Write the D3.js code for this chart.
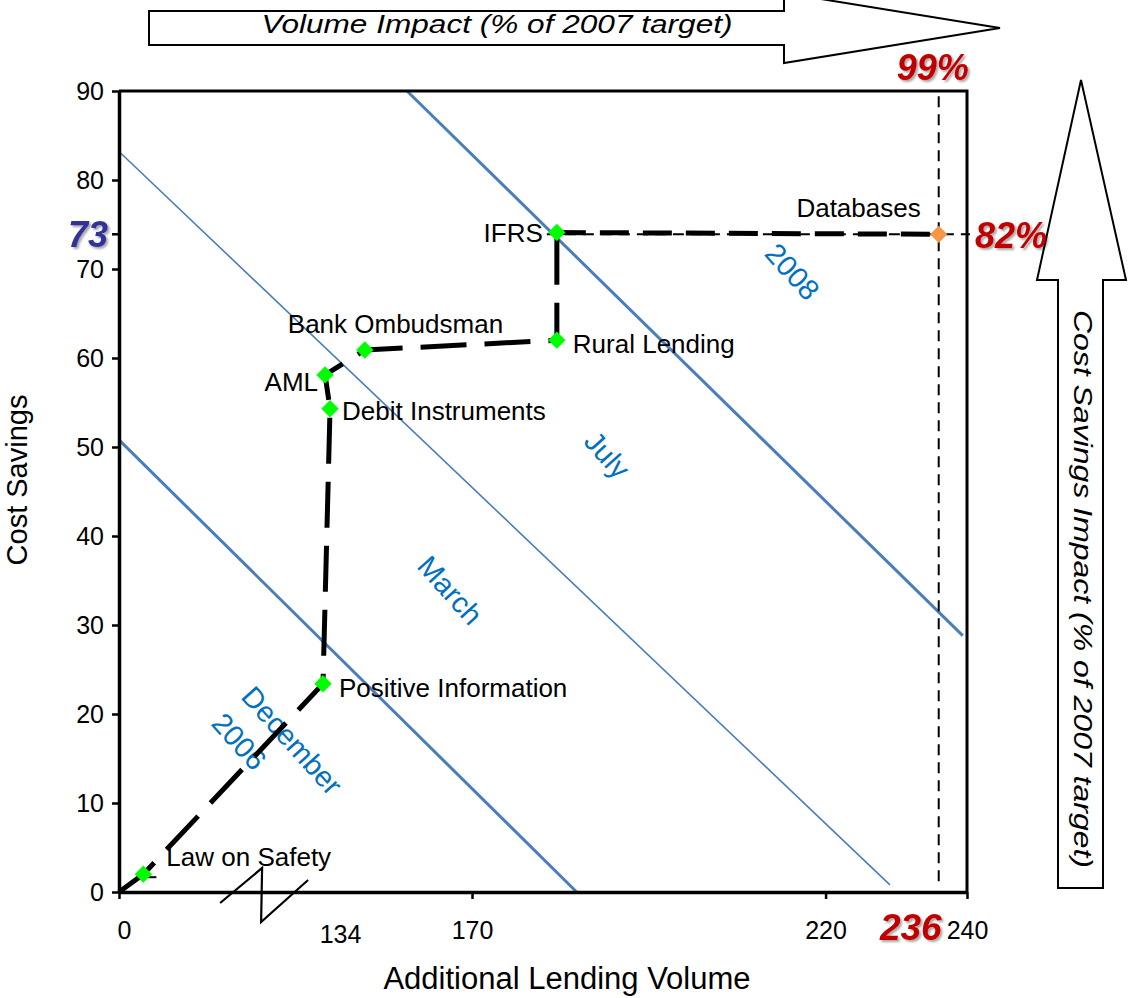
<!DOCTYPE html>
<html><head><meta charset="utf-8">
<script src="https://cdn.jsdelivr.net/npm/d3@7"></script>
<style>
html,body{margin:0;padding:0;background:#fff;}
svg{display:block;font-family:"Liberation Sans",Arial,Helvetica,sans-serif;}
</style></head><body>
<svg id="chart" width="1128" height="998"></svg>
<script>
// ---------------- data ----------------
const pointNames   = ["Law on Safety","Positive Information","Debit Instruments","AML","Bank Ombudsman","Rural Lending","IFRS","Databases"];
const pointVolume  = [16, 134, 135.7, 134.5, 144.1, 182, 182, 236];
const pointSavings = [2.0, 23.4, 54.3, 58.1, 60.9, 62.0, 74.1, 73.9];
const pathOrigin   = [0, 0];
const xTickValues  = [0, 134, 170, 220, 240];
const yTickValues  = [0, 10, 20, 30, 40, 50, 60, 70, 80, 90];
const savingsTargetLabel = "73";
const volumeTargetLabel  = "236";
const volumeImpactLabel  = "99%";
const savingsImpactLabel = "82%";
const isoStartX = [0, 0, 154.3];
const isoStartY = [50.8, 83.2, 90];
const isoEndX   = [184.8, 229.1, 239.4];
const isoEndY   = [0, 0.8, 28.8];
const isoLabels  = [["December","2006"], ["March"], ["July"], ["2008"]];
const isoLabelX  = [84.2, 164.7, 189.1, 215.3];
const isoLabelY  = [22.6, 33.9, 49.1, 69.7];
const xTitle = "Additional Lending Volume";
const yTitle = "Cost Savings";
const topArrowText = "Volume Impact (% of 2007 target)";
const sideArrowText = "Cost Savings Impact (% of 2007 target)";

// ---------------- styles / layout ----------------
const isoWidths = [3, 1.6, 3];
const isoAnchor = ["start","middle","middle","middle"];
const labelPlace = { // dx, dy, anchor
  "Law on Safety":[23,-8,"start"], "Positive Information":[16,13,"start"],
  "Debit Instruments":[12,11,"start"], "AML":[-7,16,"end"],
  "Bank Ombudsman":[-77,-17,"start"], "Rural Lending":[16,13,"start"],
  "IFRS":[-14,9,"end"], "Databases":[-18,-17,"end"]
};
const FONT = '"Liberation Sans",Arial,Helvetica,sans-serif';
const BLUE_LINE = "#4a7ebb", BLUE_TXT = "#0070c0", RED = "#c00000", NAVY = "#333399";

const svg = d3.select("#chart");
const defs = svg.append("defs");
defs.append("filter").attr("id","shadow").attr("x","-30%").attr("y","-30%").attr("width","160%").attr("height","160%")
  .append("feDropShadow").attr("dx",2).attr("dy",2).attr("stdDeviation",1.3)
  .attr("flood-color","#000").attr("flood-opacity",0.35);

const x = d3.scaleLinear().domain([0,134,170,240]).range([119,323,472,967]);
const y = d3.scaleLinear().domain([0,90]).range([892,91]);

// ---------- block arrows ----------
svg.append("path")
  .attr("d","M149,11 H784 V-7 L1000,28 L784,63 V45 H149 Z")
  .attr("fill","#fff").attr("stroke","#000").attr("stroke-width",2);
svg.append("text").attr("x",497).attr("y",33).attr("text-anchor","middle")
  .attr("font-size",25).attr("font-style","italic")
  .attr("textLength",471).attr("lengthAdjust","spacingAndGlyphs")
  .text(topArrowText);

svg.append("path")
  .attr("d","M1058,888 V280 H1037 L1081,80 L1126,280 H1103 V888 Z")
  .attr("fill","#fff").attr("stroke","#000").attr("stroke-width",2);
svg.append("text").attr("transform","translate(1074,589) rotate(90)")
  .attr("text-anchor","middle").attr("font-size",25).attr("font-style","italic")
  .attr("textLength",558).attr("lengthAdjust","spacingAndGlyphs")
  .text(sideArrowText);

// ---------- iso lines ----------
const isoG = svg.append("g");
isoStartX.forEach((sx,i)=>{
  isoG.append("line")
    .attr("x1",x(sx)).attr("y1",y(isoStartY[i]))
    .attr("x2",x(isoEndX[i])).attr("y2",y(isoEndY[i]))
    .attr("stroke",BLUE_LINE).attr("stroke-width",isoWidths[i]);
});
isoLabels.forEach((lines,i)=>{
  const g = svg.append("g").attr("transform",`translate(${x(isoLabelX[i])},${y(isoLabelY[i])}) rotate(48)`);
  const t = g.append("text").attr("fill",BLUE_TXT).attr("font-size",29)
    .attr("text-anchor",isoAnchor[i]).attr("dominant-baseline","central");
  lines.forEach((ln,j)=>{
    t.append("tspan").attr("x",0).attr("y",j*40).text(ln);
  });
});

// ---------- axes ----------
const gx = svg.append("g").attr("transform",`translate(0,${y(0)})`)
  .call(d3.axisBottom(x).tickValues(xTickValues).tickSize(7).tickSizeOuter(0).tickPadding(22));
gx.selectAll("text").attr("font-size",25).attr("font-family",FONT).attr("fill","#000");
gx.selectAll(".tick line").attr("stroke","#000").attr("stroke-width",2.5);
gx.select(".domain").attr("stroke","#000").attr("stroke-width",3.5);
gx.selectAll(".tick").filter(d=>d===134).each(function(){
  d3.select(this).select("line").remove();
  d3.select(this).select("text").attr("dx",17).attr("dy","0.88em");
});
gx.selectAll(".tick").filter(d=>d===0).select("text").attr("dx",5);

const gy = svg.append("g").attr("transform",`translate(${x(0)},0)`)
  .call(d3.axisLeft(y).tickValues(yTickValues).tickSize(7).tickSizeOuter(0).tickPadding(8));
gy.selectAll("text").attr("font-size",25).attr("font-family",FONT).attr("fill","#000");
gy.selectAll(".tick line").attr("stroke","#000").attr("stroke-width",2.5);
gy.select(".domain").attr("stroke","#000").attr("stroke-width",3.5);

// top & right border
svg.append("path")
  .attr("d",`M${x(0)},${y(90)} H${x(240)} V${y(0)}`)
  .attr("fill","none").attr("stroke","#000").attr("stroke-width",3);

// axis break zigzag
const bx = x(94), by = y(0);
svg.append("path")
  .attr("d",`M${bx-42},${by+11} L${bx},${by-24} L${bx-1},${by+30} L${bx+46},${by-12}`)
  .attr("fill","none").attr("stroke","#000").attr("stroke-width",2.2);

// titles
svg.append("text").attr("x",567).attr("y",989).attr("text-anchor","middle")
  .attr("font-size",31).text(xTitle);
svg.append("text").attr("transform","translate(27,480) rotate(-90)").attr("text-anchor","middle")
  .attr("font-size",29).text(yTitle);

// ---------- target reference lines ----------
const last = pointNames.length - 1;
const tx = x(pointVolume[last]), ty = y(pointSavings[last]);
svg.append("line").attr("x1",tx).attr("x2",tx).attr("y1",y(89.4)).attr("y2",y(0.7))
  .attr("stroke","#000").attr("stroke-width",2).attr("stroke-dasharray","11,7");
svg.append("line").attr("x1",x(pointVolume[last-1])-10).attr("x2",x(240)+3).attr("y1",ty).attr("y2",ty)
  .attr("stroke","#000").attr("stroke-width",2).attr("stroke-dasharray","11,7");

// ---------- progress path ----------
const pts = [pathOrigin].concat(pointVolume.map((v,i)=>[v,pointSavings[i]]));
const line = d3.line().x(d=>x(d[0])).y(d=>y(d[1]));
svg.append("path").attr("d",line(pts.slice(0,pts.length-1)))
  .attr("fill","none").attr("stroke","#000").attr("stroke-width",5)
  .attr("stroke-dasharray","46,18").attr("stroke-linejoin","round");
svg.append("path").attr("d",line(pts.slice(pts.length-2)))
  .attr("fill","none").attr("stroke","#000").attr("stroke-width",5)
  .attr("stroke-dasharray","29,14");

// small stray tick next to first point
svg.append("line").attr("x1",x(pointVolume[0])+4).attr("x2",x(pointVolume[0])+13)
  .attr("y1",y(pointSavings[0])+3).attr("y2",y(pointSavings[0])+3)
  .attr("stroke","#000").attr("stroke-width",2);

// ---------- markers ----------
const diamond = d3.symbol().type(d3.symbolSquare).size(150);
pointNames.forEach((n,i)=>{
  svg.append("path").attr("d",diamond())
    .attr("transform",`translate(${x(pointVolume[i])},${y(pointSavings[i])}) rotate(45)`)
    .attr("fill", i===last ? "#f79646" : "#00ff00");
});

// point labels
pointNames.forEach((n,i)=>{
  const p = labelPlace[n];
  svg.append("text").attr("x",x(pointVolume[i])+p[0]).attr("y",y(pointSavings[i])+p[1])
    .attr("text-anchor",p[2]).attr("font-size",26).attr("fill","#000").text(n);
});

// ---------- highlight labels ----------
svg.append("line").attr("x1",x(0)-7).attr("x2",x(0)).attr("y1",ty).attr("y2",ty)
  .attr("stroke","#000").attr("stroke-width",2.5);
svg.append("text").attr("x",x(0)-11).attr("y",y(pointSavings[last-1])+14)
  .attr("text-anchor","end").attr("font-size",36).attr("font-weight","bold").attr("font-style","italic")
  .attr("fill",NAVY).attr("filter","url(#shadow)").text(savingsTargetLabel);
svg.append("text").attr("x",tx+3).attr("y",y(0)+48)
  .attr("text-anchor","end").attr("font-size",37).attr("font-weight","bold").attr("font-style","italic")
  .attr("fill",RED).attr("filter","url(#shadow)").text(volumeTargetLabel);
svg.append("text").attr("x",tx-6).attr("y",y(90)-11)
  .attr("text-anchor","middle").attr("font-size",36).attr("font-weight","bold").attr("font-style","italic")
  .attr("fill",RED).attr("filter","url(#shadow)").text(volumeImpactLabel);
svg.append("text").attr("x",x(240)+8).attr("y",ty+14)
  .attr("text-anchor","start").attr("font-size",36).attr("font-weight","bold").attr("font-style","italic")
  .attr("fill",RED).attr("filter","url(#shadow)").text(savingsImpactLabel);
</script>
</body></html>
